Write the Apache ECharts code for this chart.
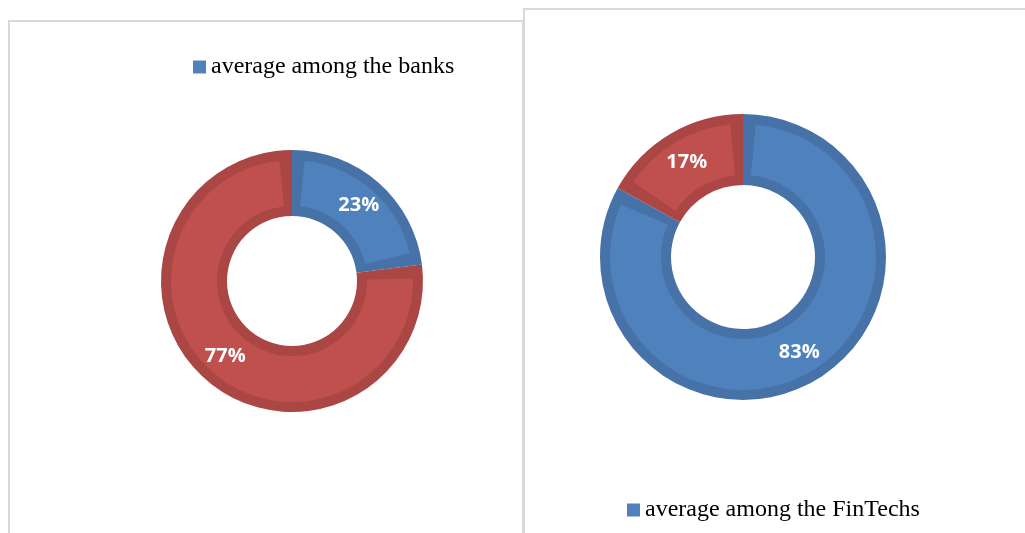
<!DOCTYPE html>
<html>
<head>
<meta charset="utf-8">
<script src="https://cdn.jsdelivr.net/npm/echarts@6/dist/echarts.min.js"></script>
<style>
html,body{margin:0;padding:0;background:#ffffff;overflow:hidden;}
.frame{position:absolute;box-sizing:border-box;border:2px solid #D9D9D9;}
#frameL{left:8px;top:20px;width:516px;height:600px;}
#frameR{left:523px;top:8px;width:600px;height:600px;border-right:none;}
#chart{position:absolute;left:0;top:0;width:1025px;height:533px;}
</style>
</head>
<body>
<div class="frame" id="frameL"></div>
<div class="frame" id="frameR"></div>
<div id="chart"></div>
<script>
// ---- data ----
const bankCategories = ['average among the banks', 'other (banks)'];
const bankValues = [23, 77];
const fintechCategories = ['average among the FinTechs', 'other (FinTechs)'];
const fintechValues = [83, 17];

// ---- styles ----
const fillColors = ['#4F81BD', '#C0504D'];
const edgeColors = ['#4672A8', '#AA4643'];

function buildData(cats, vals, colors) {
  return cats.map(function (c, i) {
    return { name: c, value: vals[i], itemStyle: { color: colors[i], borderWidth: 0 } };
  });
}

function donut(cats, vals, center, inner, outer, border, pad) {
  return [
    {
      type: 'pie', center: center, radius: [inner, outer],
      startAngle: 90, clockwise: true, silent: true,
      itemStyle: { borderWidth: 0 },
      label: { show: false }, labelLine: { show: false },
      emphasis: { disabled: true },
      data: buildData(cats, vals, edgeColors)
    },
    {
      type: 'pie', center: center, radius: [inner + border, outer - border],
      startAngle: 90, clockwise: true, padAngle: pad,
      itemStyle: { borderWidth: 0 },
      label: {
        show: true, position: 'inside', formatter: '{c}%',
        color: '#ffffff', fontFamily: 'Open Sans', fontWeight: 'bold', fontSize: 20
      },
      labelLine: { show: false },
      emphasis: { scale: false },
      data: buildData(cats, vals, fillColors)
    }
  ];
}

const chart = echarts.init(document.getElementById('chart'), null, { renderer: 'canvas' });
const legendText = { fontFamily: 'Liberation Serif', fontSize: 24, color: '#000000' };
chart.setOption({
  animation: false,
  legend: [
    {
      left: 193, top: 55, padding: 0, icon: 'rect', itemWidth: 13, itemHeight: 13, itemGap: 10,
      textStyle: legendText, selectedMode: false,
      data: [{ name: bankCategories[0], itemStyle: { color: fillColors[0] } }]
    },
    {
      left: 627, top: 498, padding: 0, icon: 'rect', itemWidth: 13, itemHeight: 13, itemGap: 10,
      textStyle: legendText, selectedMode: false,
      data: [{ name: fintechCategories[0], itemStyle: { color: fillColors[0] } }]
    }
  ],
  series: [].concat(
    donut(bankCategories, bankValues, [292, 281], 65, 131, 10, 12),
    donut(fintechCategories, fintechValues, [743, 257], 72, 143, 10, 11)
  )
});
</script>
</body>
</html>
